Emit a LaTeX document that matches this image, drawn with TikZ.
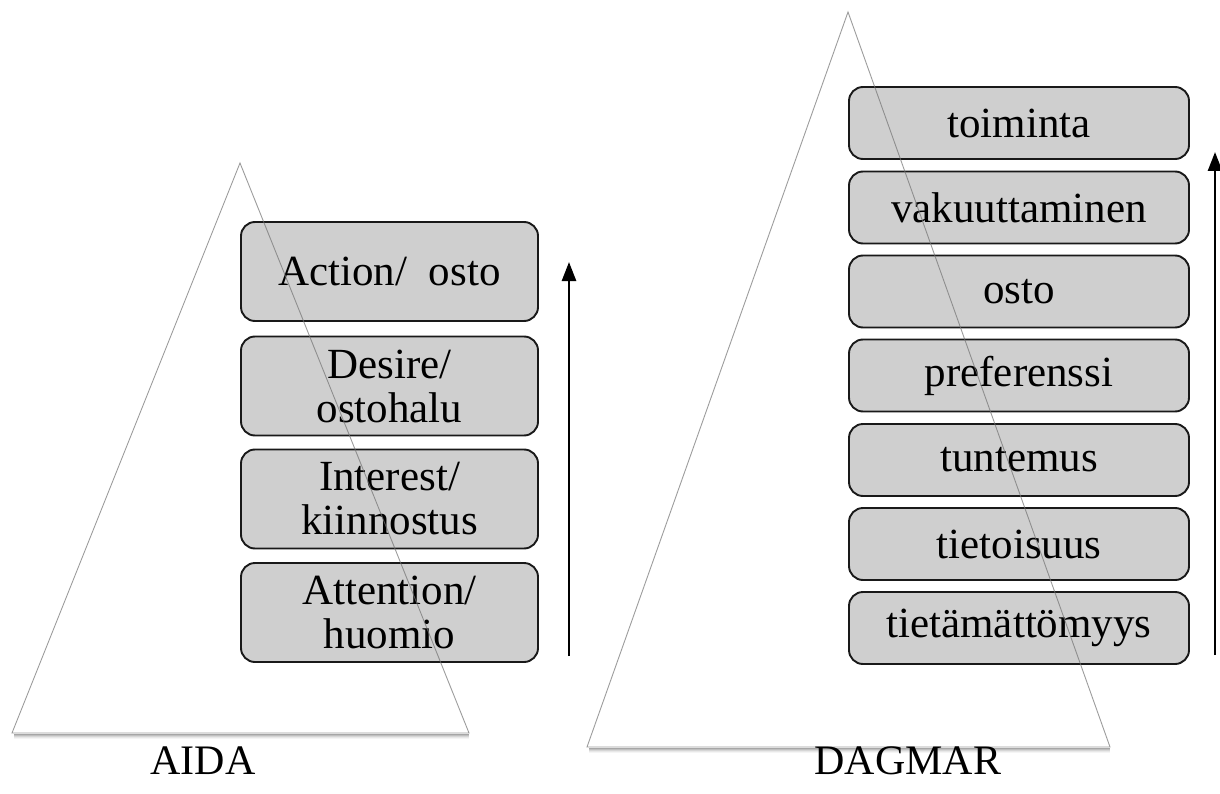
\documentclass[tikz,border=0pt]{standalone}
\usepackage{fontspec}
\setmainfont{Liberation Serif}
\usetikzlibrary{arrows.meta}
\begin{document}
\begin{tikzpicture}[x=1pt,y=-1pt,
  stage/.style={draw=black!90, line width=1.9pt, fill=black!19, rounded corners=14pt,
    align=center, inner sep=0pt, font=\fontsize{43}{44}\selectfont},
  aidabox/.style={stage, minimum width=297pt, minimum height=99pt},
  dagbox/.style={stage, minimum width=340pt, minimum height=72pt},
  pyr/.style={draw=black!55, line width=0.9pt},
  pyrfill/.style={fill=white},
  rise/.style={line width=2.6pt, -{Triangle[length=19pt,width=14pt]}},
  caption/.style={font=\fontsize{42}{44}\selectfont}]
\useasboundingbox (0,0) rectangle (1220,794);

% pyramid bodies with a soft shadow under the base
\foreach \k/\o in {1/0.35,2/0.25,3/0.16,4/0.09,5/0.04}{
  \draw[black, opacity=\o, line width=1pt] (14,733+\k) -- (469,733+\k);
  \draw[black, opacity=\o, line width=1pt] (589,747+\k) -- (1110,747+\k);
}
\fill[pyrfill] (240,163) -- (12,733) -- (469,733) -- cycle;
\fill[pyrfill] (848,12) -- (587,747) -- (1110,747) -- cycle;

% AIDA stages
\node[aidabox] (act) at (389.5,271.5) {Action/\ \ osto};
\node[aidabox] (des) at (389.5,386) {Desire/\\ostohalu};
\node[aidabox] (int) at (389.5,499) {Interest/\\kiinnostus};
\node[aidabox] (att) at (389.5,612.5) {Attention/\\huomio};

% DAGMAR stages
\node[dagbox] (toi) at (1019,123) {toiminta};
\node[dagbox] (vak) at (1019,207.5) {vakuuttaminen};
\node[dagbox] (ost) at (1019,291.5) {osto};
\node[dagbox] (pre) at (1019,375.5) {preferenssi};
\node[dagbox] (tun) at (1019,460) {tuntemus};
\node[dagbox] (tie) at (1019,544) {tietoisuus};
\node[dagbox] (tim) at (1019,628) {tietämättömyys};

% pyramid outlines, seen through the stages
\draw[pyr, opacity=0.7] (240,163) -- (12,733) -- (469,733) -- cycle;
\draw[pyr, opacity=0.7] (848,12) -- (587,747) -- (1110,747) -- cycle;

% direction of progress
\coordinate (a0) at (569,656);
\coordinate (a1) at (569,262);
\coordinate (d0) at (1215,655);
\coordinate (d1) at (1215,152);
\draw[rise] (a0) -- (a1);
\draw[rise] (d0) -- (d1);

% model names
\node[caption] (aida) at (203,761) {AIDA};
\node[caption] (dagmar) at (908,761) {DAGMAR};
\end{tikzpicture}
\end{document}
